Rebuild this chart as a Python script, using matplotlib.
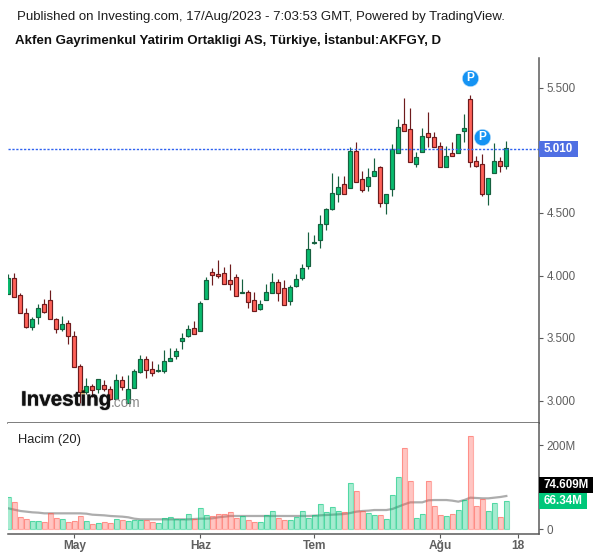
import numpy as np
import matplotlib
matplotlib.use("Agg")
import matplotlib.pyplot as plt
import matplotlib.patheffects as pe
from matplotlib.patches import Rectangle

plt.rcParams['font.family'] = ['Liberation Sans', 'DejaVu Sans']

W, H = 600, 558

# daily candles, one row per session
opens = [3.849,3.977,3.841,3.697,3.591,3.671,3.769,3.801,3.649,3.569,3.617,3.513,3.273,3.071,3.113,3.089,3.121,3.089,3.009,3.161,
         2.977,3.097,3.231,3.329,3.249,3.233,3.233,3.313,3.359,3.473,3.513,3.577,3.559,3.815,4.028,4.009,4.017,3.961,3.985,3.857,
         3.865,3.801,3.735,3.807,3.863,3.945,3.897,3.799,3.919,3.983,4.079,4.257,4.287,4.415,4.535,4.655,4.729,4.697,4.993,4.769,
         4.713,4.793,4.865,4.583,4.689,4.977,5.209,5.169,4.889,4.985,5.137,5.105,5.033,4.865,4.977,4.977,5.153,5.409,4.913,4.889,
         4.649,4.817,4.913,4.873]
highs = [4.012,4.017,3.857,3.737,3.665,3.769,3.809,3.884,3.657,3.676,3.641,3.556,3.289,3.180,3.132,3.169,3.161,3.116,3.212,3.196,
         3.201,3.249,3.364,3.353,3.313,3.292,3.404,3.417,3.417,3.537,3.601,3.636,3.796,3.988,4.060,4.124,4.068,4.092,4.012,3.972,
         3.884,3.868,3.804,3.932,4.020,3.972,3.964,3.924,4.012,4.092,4.348,4.324,4.484,4.537,4.820,4.796,4.796,5.025,5.068,4.833,
         4.860,4.940,4.876,4.649,5.052,5.252,5.420,5.337,4.985,5.177,5.308,5.148,5.065,5.033,5.065,5.129,5.289,5.444,4.953,4.969,
         4.777,5.057,4.945,5.076]
lows = [3.849,3.825,3.697,3.583,3.564,3.612,3.697,3.649,3.543,3.559,3.455,3.265,2.977,3.052,3.031,3.063,3.079,3.004,3.009,3.084,
        2.977,3.097,3.223,3.180,3.199,3.228,3.220,3.313,3.335,3.415,3.511,3.529,3.559,3.815,3.924,3.983,3.935,3.884,3.839,3.857,
        3.743,3.719,3.724,3.807,3.863,3.799,3.767,3.764,3.908,3.964,4.052,4.255,4.223,4.364,4.524,4.588,4.655,4.697,4.745,4.671,
        4.679,4.793,4.551,4.495,4.636,4.977,5.153,4.905,4.871,4.985,5.031,5.025,4.865,4.865,4.953,4.977,5.071,4.865,4.865,4.639,
        4.567,4.817,4.831,4.855]
closes = [3.977,3.825,3.697,3.591,3.649,3.737,3.711,3.649,3.569,3.609,3.513,3.271,3.071,3.113,3.081,3.169,3.089,3.009,3.161,3.111,
          3.089,3.233,3.329,3.241,3.217,3.241,3.313,3.337,3.393,3.497,3.569,3.529,3.777,3.961,4.007,3.999,3.935,3.935,3.839,3.865,
          3.791,3.719,3.769,3.865,3.945,3.863,3.767,3.905,3.969,4.057,4.209,4.265,4.409,4.529,4.657,4.705,4.655,4.993,4.745,4.687,
          4.785,4.833,4.583,4.649,5.009,5.185,5.153,4.905,4.945,5.113,5.105,5.025,4.865,4.953,4.953,5.129,5.177,4.905,4.873,4.649,
          4.777,4.913,4.873,5.017]
up = [1,0,0,0,1,1,0,0,0,1,0,0,0,1,0,1,0,0,1,0,
      1,1,1,0,0,1,1,1,1,1,1,0,1,1,0,0,0,0,0,1,
      0,0,1,1,1,0,0,1,1,1,1,1,1,1,1,1,0,1,0,0,
      1,1,0,1,1,1,0,0,1,1,0,0,0,1,0,1,1,0,0,0,
      1,1,0,1]

# volume in millions and its 20 day average
volume = [75.4,63.5,27.8,23.0,19.8,19.8,15.9,37.3,25.4,23.0,15.9,19.8,30.2,18.3,11.1,13.5,15.9,13.5,23.0,20.6,
          18.3,20.6,22.2,20.6,15.9,13.5,25.4,27.8,23.0,23.0,34.9,23.0,49.2,32.5,30.2,34.9,34.9,39.7,25.4,30.2,
          20.6,15.9,15.9,32.5,42.1,25.4,20.6,20.6,27.8,42.1,25.4,32.5,58.7,39.7,51.6,42.1,39.7,108.7,89.7,42.1,
          37.3,32.5,32.5,23.0,80.2,123.0,192.0,113.5,25.4,34.9,113.5,54.0,32.5,30.2,34.9,44.4,68.3,220.6,54.0,70.6,
          42.1,61.1,27.8,66.34]
vol_ma = [49.2,46.0,42.9,41.3,39.7,38.9,37.3,37.3,37.3,37.3,37.3,37.3,37.3,36.5,34.1,33.3,32.5,31.0,30.2,29.4,
          27.8,24.6,23.0,23.0,23.0,23.0,23.0,23.0,23.0,23.0,23.0,23.8,24.6,24.6,25.4,27.8,29.4,31.0,31.0,31.0,
          31.0,31.0,31.0,31.0,31.0,31.0,31.0,31.0,31.0,31.0,31.0,31.7,32.5,33.3,34.1,34.9,35.7,38.1,41.3,42.9,
          43.7,45.2,45.2,45.2,47.6,53.2,58.7,63.5,63.5,63.5,68.3,69.0,69.0,69.0,67.5,65.1,69.0,74.6,73.8,73.0,
          73.0,74.6,76.2,78.6]

price_ticks = [3.0, 3.5, 4.0, 4.5, 5.0, 5.5]
price_labels = ['3.000', '3.500', '4.000', '4.500', '', '5.500']
vol_ticks = [0, 200]
vol_labels = ['0', '200M']
date_ticks = [11, 32, 51, 72, 85]
date_labels = ['May', 'Haz', 'Tem', 'Ağu', '18']
last_price = 5.01
pivots_x = [77, 79]
pivots_y = [5.578, 5.106]

GREY = '#5a5a5a'
TICK = '#5f5f5f'
x = np.arange(len(opens))
up = np.array(up, dtype=bool)
opens, highs, lows, closes = map(np.array, (opens, highs, lows, closes))
volume = np.array(volume)


def pane(left, top, right, bottom):
    return fig.add_axes([left / W, 1 - bottom / H, (right - left) / W, (bottom - top) / H])


fig = plt.figure(figsize=(W / 100, H / 100), dpi=100, facecolor='white')
ax = pane(8, 58, 539, 423)
vax = pane(8, 423, 539, 534)
xlim = (-0.055, 88.445)

# candles
for mask, fill, edge in [(up, '#08bb6e', '#16603f'), (~up, '#ff6259', '#6e1b1d')]:
    ax.vlines(x[mask], lows[mask], highs[mask], color=edge, lw=0.85, zorder=2)
    ax.bar(x[mask], (closes - opens)[mask], bottom=opens[mask], width=0.68,
           color=fill, edgecolor=edge, linewidth=0.85, zorder=3)
ax.axhline(last_price, color='#2f62f0', lw=1.0, ls=(0, (1.6, 1.2)), zorder=4)
ax.scatter(pivots_x, pivots_y, s=140, color='#1593f3', edgecolor='#cfe8fb', linewidth=0.4, zorder=6)
for px, py in zip(pivots_x, pivots_y):
    ax.text(px, py, 'P', color='white', fontsize=8.6, fontweight='bold', ha='center', va='center', zorder=7)
ax.set_xlim(*xlim)
ax.set_ylim(2.82, 5.74)
ax.set_xticks([])
ax.yaxis.tick_right()
ax.set_yticks(price_ticks, price_labels)

# volume
vax.plot(x, vol_ma, color='#777777', lw=1.6, alpha=0.6, zorder=2)
for mask, col in [(up, '#00c77a'), (~up, '#ff5a50')]:
    vax.bar(x[mask], volume[mask], width=0.92, color=col, alpha=0.35, edgecolor='none', zorder=3)
    vax.bar(x[mask], volume[mask], width=0.85, fill=False, edgecolor=col, alpha=0.5, linewidth=0.8, zorder=3)
vax.set_xlim(*xlim)
vax.set_ylim(-11.9, 252.4)
vax.yaxis.tick_right()
vax.set_yticks(vol_ticks, vol_labels)
vax.set_xticks(date_ticks, date_labels, fontweight='bold')

for a in (ax, vax):
    a.spines['left'].set_visible(False)
    a.spines['top'].set_visible(False)
    a.spines['right'].set_color(GREY)
    a.spines['right'].set_linewidth(1.1)
    a.spines['bottom'].set_color(GREY)
    a.spines['bottom'].set_linewidth(1.1)
    a.tick_params(axis='y', length=3, width=0.8, color=GREY, labelcolor=TICK, labelsize=8.4, pad=2.5)
    a.tick_params(axis='x', length=3, width=0.8, color=GREY, labelcolor=TICK, labelsize=8.6, pad=1.5)

# header, logo and price labels placed in pixels
over = fig.add_axes([0, 0, 1, 1], facecolor='none')
over.set_xlim(0, W)
over.set_ylim(H, 0)
over.axis('off')
over.text(17, 17, 'Published on Investing.com, 17/Aug/2023 - 7:03:53 GMT, Powered by TradingView.',
          fontsize=9.55, color='#1c1c1c', va='center')
over.text(15, 40, 'Akfen Gayrimenkul Yatirim Ortakligi AS, Türkiye, İstanbul:AKFGY, D',
          fontsize=9.55, fontweight='bold', color='#111111', va='center')
over.text(18, 440, 'Hacim (20)', fontsize=9.3, color='#222222', va='center')
blur = [pe.withStroke(linewidth=1.2, foreground='#00000030')]
over.text(21, 400, 'Investing', fontsize=14.8, fontweight='bold', color='#111111', va='center',
          path_effects=blur)
over.text(111, 403, '.com', fontsize=9.8, color='#8a8a8a', va='center')
over.plot([83], [392], marker='*', ms=5, color='#f5a623', mew=0)

over.add_patch(Rectangle((539, 141), 39, 16, color='#4f6fe3', lw=0))
over.text(558.5, 149, '5.010', color='white', fontsize=8.4, fontweight='bold', ha='center', va='center')
over.plot([539, 543], [148.5, 148.5], color='#4f6fe3', lw=0.8)
over.add_patch(Rectangle((539, 477), 54, 16, color='black', lw=0))
over.text(566, 485, '74.609M', color='white', fontsize=8.4, fontweight='bold', ha='center', va='center')
over.add_patch(Rectangle((539, 493), 48, 16, color='#00c77a', lw=0))
over.text(563, 501, '66.34M', color='white', fontsize=8.4, fontweight='bold', ha='center', va='center')

fig.savefig('out.png', dpi=100)
